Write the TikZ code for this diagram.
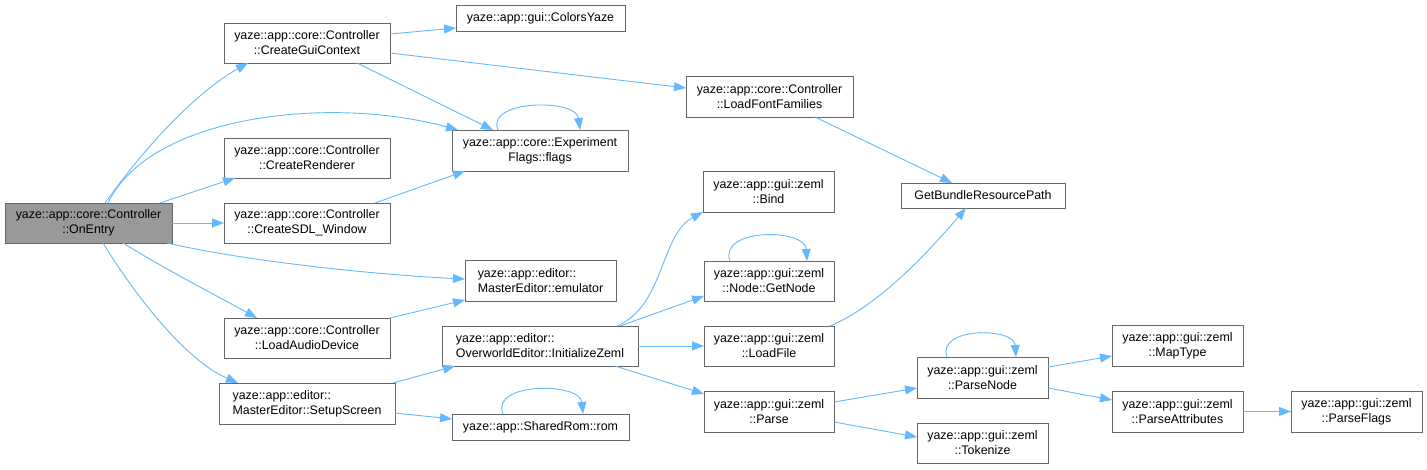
\documentclass[tikz,border=0pt]{standalone}
\usepackage{fontspec}
\setmainfont{Liberation Sans}
\usetikzlibrary{arrows.meta,calc}
\definecolor{edgeblue}{HTML}{63B8FF}
\definecolor{boxgray}{HTML}{666666}
\definecolor{curfill}{HTML}{999999}
\tikzset{
  box/.style={draw=boxgray, line width=1pt, fill=white, anchor=north west,
    inner sep=0pt, outer sep=0pt, align=center, font=\fontsize{12.4}{15}\selectfont},
  lbox/.style={box, align=left},
  curbox/.style={box, fill=curfill},
  edge/.style={draw=edgeblue, line width=0.9pt, -{Triangle[length=12pt,width=9pt]}},
}
\begin{document}
\begin{tikzpicture}[x=1pt,y=-1pt]
\useasboundingbox (0,0) rectangle (1427,469);
% nodes (placed by top-left corner)
\node[curbox, minimum width=167pt, minimum height=40pt] (onentry) at (5,203) {yaze::app::core::Controller\\::OnEntry};
\node[box, minimum width=166pt, minimum height=40pt] (cgc) at (224,23) {yaze::app::core::Controller\\::CreateGuiContext};
\node[box, minimum width=166pt, minimum height=40pt] (crend) at (224,138) {yaze::app::core::Controller\\::CreateRenderer};
\node[box, minimum width=166pt, minimum height=40pt] (csdl) at (224,203) {yaze::app::core::Controller\\::CreateSDL\_Window};
\node[box, minimum width=166pt, minimum height=40pt] (lad) at (224,318) {yaze::app::core::Controller\\::LoadAudioDevice};
\node[lbox, minimum width=176pt, minimum height=41pt] (setup) at (219,383) {yaze::app::editor::\\MasterEditor::SetupScreen};
\node[box, minimum width=169pt, minimum height=26pt] (colors) at (456,5) {yaze::app::gui::ColorsYaze};
\node[box, minimum width=176pt, minimum height=41pt] (flags) at (452,130) {yaze::app::core::Experiment\\Flags::flags};
\node[lbox, minimum width=151pt, minimum height=41pt] (emu) at (465,260) {yaze::app::editor::\\MasterEditor::emulator};
\node[lbox, minimum width=196pt, minimum height=40pt] (initz) at (442,326) {yaze::app::editor::\\OverworldEditor::InitializeZeml};
\node[box, minimum width=177pt, minimum height=26pt] (rom) at (452,414) {yaze::app::SharedRom::rom};
\node[box, minimum width=167pt, minimum height=41pt] (lff) at (686,76) {yaze::app::core::Controller\\::LoadFontFamilies};
\node[box, minimum width=131pt, minimum height=41pt] (bind) at (703,171) {yaze::app::gui::zeml\\::Bind};
\node[box, minimum width=130pt, minimum height=40pt] (getnode) at (704,261) {yaze::app::gui::zeml\\::Node::GetNode};
\node[box, minimum width=130pt, minimum height=40pt] (loadfile) at (704,326) {yaze::app::gui::zeml\\::LoadFile};
\node[box, minimum width=130pt, minimum height=41pt] (parse) at (704,391) {yaze::app::gui::zeml\\::Parse};
\node[box, minimum width=164pt, minimum height=25pt] (gbrp) at (901,183) {GetBundleResourcePath};
\node[box, minimum width=131pt, minimum height=41pt] (parsenode) at (917,357) {yaze::app::gui::zeml\\::ParseNode};
\node[box, minimum width=131pt, minimum height=40pt] (tokenize) at (917,423) {yaze::app::gui::zeml\\::Tokenize};
\node[box, minimum width=131pt, minimum height=41pt] (maptype) at (1112,325) {yaze::app::gui::zeml\\::MapType};
\node[box, minimum width=131pt, minimum height=41pt] (parseattr) at (1112,391) {yaze::app::gui::zeml\\::ParseAttributes};
\node[box, minimum width=131pt, minimum height=41pt] (parseflags) at (1291,391) {yaze::app::gui::zeml\\::ParseFlags};
% edges from OnEntry
\draw[edge] ($(onentry.north west)+(100,0)$) .. controls (150,140) and (200,90) .. ($(cgc.north west)+(24,40)$);
\draw[edge] ($(onentry.north west)+(103,0)$) .. controls (150,115) and (330,95) .. ($(flags.north west)+(6,0)$);
\draw[edge] ($(onentry.north west)+(155,0)$) -- ($(crend.north west)+(11,40)$);
\draw[edge] (onentry.east) -- (csdl.west);
\draw[edge] ($(onentry.north west)+(162,40)$) .. controls (250,262) and (380,275) .. ($(emu.north west)+(0,19)$);
\draw[edge] ($(onentry.north west)+(118,40)$) .. controls (170,272) and (210,292) .. ($(lad.north west)+(33,0)$);
\draw[edge] ($(onentry.north west)+(98,40)$) .. controls (135,295) and (185,360) .. ($(setup.north west)+(19,0)$);
% from CreateGuiContext
\draw[edge] ($(cgc.north west)+(166,11)$) -- ($(colors.north west)+(0,23)$);
\draw[edge] ($(cgc.north west)+(133,40)$) -- ($(flags.north west)+(41,0)$);
\draw[edge] ($(cgc.north west)+(166,30)$) -- ($(lff.north west)+(0,12)$);
% flags self loop
\draw[edge] ($(flags.north west)+(46,0)$) .. controls (485,100) and (576,98) .. ($(flags.north west)+(128,0)$);
% other callers of flags / emulator
\draw[edge] ($(csdl.north west)+(151,0)$) -- ($(flags.north west)+(13,41)$);
\draw[edge] ($(lad.north west)+(166,0)$) -- ($(emu.north west)+(0,40)$);
% from SetupScreen
\draw[edge] ($(setup.north west)+(174,0)$) -- ($(initz.north west)+(13,40)$);
\draw[edge] ($(setup.north west)+(176,30)$) -- ($(rom.north west)+(0,5)$);
\draw[edge] ($(rom.north west)+(51,0)$) .. controls (490,382) and (580,382) .. ($(rom.north west)+(131,0)$);
% LoadFontFamilies
\draw[edge] ($(lff.north west)+(129,41)$) -- ($(gbrp.north west)+(51,0)$);
% from InitializeZeml
\draw[edge] ($(initz.north west)+(175,0)$) .. controls (665,305) and (660,235) .. ($(bind.north west)+(0,41)$);
\draw[edge] ($(initz.north west)+(178,0)$) -- ($(getnode.north west)+(0,35)$);
\draw[edge] (initz.east) -- (loadfile.west);
\draw[edge] ($(initz.north west)+(173,40)$) -- ($(parse.north west)+(0,3)$);
\draw[edge] ($(getnode.north west)+(26,0)$) .. controls (718,228) and (805,228) .. ($(getnode.north west)+(103,0)$);
\draw[edge] ($(loadfile.north west)+(126,0)$) .. controls (880,305) and (930,250) .. ($(gbrp.north west)+(65,25)$);
% from Parse
\draw[edge] ($(parse.north west)+(130,11)$) -- ($(parsenode.north west)+(0,31)$);
\draw[edge] ($(parse.north west)+(130,31)$) -- ($(tokenize.north west)+(0,14)$);
\draw[edge] ($(parsenode.north west)+(30,0)$) .. controls (936,327) and (1014,327) .. ($(parsenode.north west)+(99,0)$);
\draw[edge] ($(parsenode.north west)+(131,10)$) -- ($(maptype.north west)+(0,31)$);
\draw[edge] ($(parsenode.north west)+(131,31)$) -- ($(parseattr.north west)+(0,9)$);
\draw[edge] (parseattr.east) -- (parseflags.west);
\end{tikzpicture}
\end{document}
